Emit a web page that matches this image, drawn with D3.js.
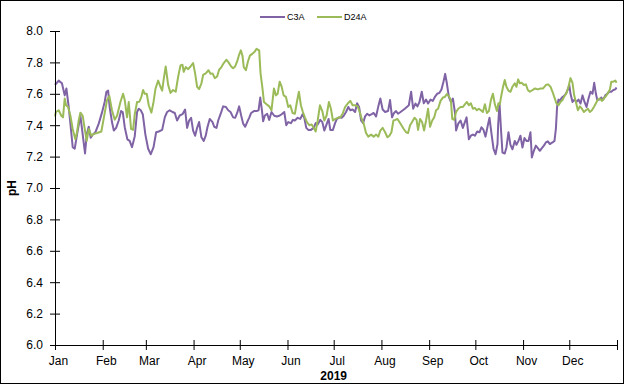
<!DOCTYPE html>
<html>
<head>
<meta charset="utf-8">
<script src="https://cdn.jsdelivr.net/npm/d3@7"></script>
<style>
  body { margin: 0; background: #fff; }
  svg { display: block; font-family: "Liberation Sans", Arial, sans-serif; }
</style>
</head>
<body>
<div id="chart"></div>
<script>
// 数据部分 (day of year 2019, pH)
const seriesNames = ['C3A', 'D24A'];
const seriesColors = ['#7F63A5', '#9BBB59'];
const monthLabels = ['Jan', 'Feb', 'Mar', 'Apr', 'May', 'Jun', 'Jul', 'Aug', 'Sep', 'Oct', 'Nov', 'Dec'];
const yTicks = [6.0, 6.2, 6.4, 6.6, 6.8, 7.0, 7.2, 7.4, 7.6, 7.8, 8.0];

const c3aDay = [0, 2.4, 4.5, 6.3, 7.4, 8.9, 10, 11.5, 12.8, 14.3, 16.5, 18, 19.5, 20.6, 21.9, 23.2, 24.5, 26.2, 28.4, 30.5,
  32.3, 33.4, 34.5, 35.5, 37, 38.2, 39.7, 41.4, 42.9, 44, 45.3, 47, 48.5, 50, 51.8, 53.3, 54.4, 55.7, 57, 58.7,
  60.5, 62.2, 64, 65.7, 67.4, 69.6, 71.3, 72.8, 74.5, 76.3, 77.8, 79.3, 81, 82.8, 84.5, 85.8, 87.1, 88.4, 89.7, 91,
  92.3, 93.6, 95.1, 96.6, 97.9, 99, 100.5, 102.3, 103.4, 104.9, 106, 107.5, 109.2, 111, 112.5, 114, 115.7, 117, 118.3, 119.6,
  120.9, 122.2, 123.5, 124.8, 126.1, 127.4, 129.2, 130.9, 132.2, 133.3, 134.4, 135.2, 136.3, 137.8, 139.1, 140.6, 142.4, 144.1, 145.7, 147.2,
  148.9, 150.2, 151.5, 153.2, 154.5, 155.8, 157.6, 159.3, 160.8, 161.9, 163.2, 164.5, 166.2, 168, 169.3, 170.6, 172.3, 173.6, 174.9, 176.2,
  177.7, 178.8, 180.5, 181.9, 183.1, 184.7, 186.2, 187.5, 189, 190.5, 191.8, 193.3, 194.9, 196.2, 197.5, 198.8, 200.1, 201.4, 202.7, 204.2,
  205.7, 207, 208.5, 210, 211.3, 212.8, 214.4, 216.3, 217.6, 218.9, 220.2, 221.5, 222.8, 224.4, 225.9, 227.2, 228.5, 229.8, 231.3, 232.6,
  234.1, 235.4, 236.7, 238.2, 239.5, 241, 242.3, 243.9, 245.4, 246.7, 248.2, 249.7, 251, 252.3, 253.4, 254.5, 255.8, 257.1, 258.4, 259.7,
  260.5, 261.9, 263.4, 264.9, 266.2, 267.3, 268.8, 270.1, 271.4, 272.7, 274.2, 275.7, 277, 278.3, 279.6, 280.9, 282.2, 283.5, 284.8, 286.1,
  287.4, 287.8, 288.7, 289.7, 290.6, 292.1, 293.2, 294.5, 295.8, 297.1, 298.6, 299.7, 301, 302.3, 303.6, 304.9, 306.2, 307.5, 308.8, 309.7,
  311, 312.3, 313.6, 314.9, 316.2, 317.5, 318.8, 320.1, 321.4, 323.1, 324.4, 325.3, 326.1, 327, 327.9, 329.2, 330.5, 331.8, 333.1, 334,
  334.8, 336.1, 337.4, 338.7, 340, 341.3, 342.6, 343.9, 345.2, 346.5, 347.8, 349.1, 350.2, 351.3, 352.2, 353.5, 354.8, 356, 357.4, 358.7,
  360, 361.3, 362.6, 363.9, 364.7];
const c3aPH = [7.656, 7.684, 7.667, 7.59, 7.634, 7.516, 7.41, 7.26, 7.25, 7.34, 7.46, 7.34, 7.22, 7.34, 7.39, 7.32, 7.34, 7.355, 7.41, 7.48,
  7.55, 7.613, 7.62, 7.516, 7.42, 7.366, 7.383, 7.43, 7.49, 7.484, 7.387, 7.31, 7.30, 7.26, 7.33, 7.484, 7.505, 7.495, 7.47, 7.34,
  7.25, 7.215, 7.26, 7.355, 7.36, 7.37, 7.45, 7.484, 7.495, 7.484, 7.478, 7.43, 7.462, 7.47, 7.50, 7.383, 7.43, 7.447, 7.366, 7.333,
  7.383, 7.42, 7.323, 7.30, 7.333, 7.387, 7.44, 7.42, 7.39, 7.383, 7.43, 7.47, 7.52, 7.516, 7.495, 7.484, 7.45, 7.447, 7.478, 7.52,
  7.462, 7.41, 7.39, 7.42, 7.447, 7.478, 7.49, 7.49, 7.495, 7.576, 7.495, 7.425, 7.462, 7.473, 7.434, 7.484, 7.46, 7.456, 7.46, 7.47,
  7.484, 7.40, 7.42, 7.413, 7.434, 7.43, 7.447, 7.44, 7.47, 7.447, 7.383, 7.37, 7.37, 7.383, 7.413, 7.405, 7.434, 7.42, 7.366, 7.40,
  7.44, 7.37, 7.37, 7.413, 7.44, 7.45, 7.447, 7.46, 7.484, 7.516, 7.495, 7.50, 7.484, 7.54, 7.516, 7.43, 7.413, 7.456, 7.473, 7.462,
  7.47, 7.478, 7.456, 7.52, 7.57, 7.50, 7.484, 7.49, 7.56, 7.45, 7.478, 7.49, 7.473, 7.484, 7.495, 7.505, 7.516, 7.527, 7.613, 7.505,
  7.538, 7.52, 7.548, 7.613, 7.54, 7.563, 7.538, 7.563, 7.555, 7.58, 7.60, 7.606, 7.628, 7.677, 7.727, 7.667, 7.58, 7.548, 7.57, 7.484,
  7.366, 7.41, 7.43, 7.383, 7.42, 7.45, 7.31, 7.333, 7.34, 7.333, 7.36, 7.355, 7.387, 7.37, 7.327, 7.39, 7.447, 7.344, 7.25, 7.215,
  7.28, 7.40, 7.538, 7.366, 7.226, 7.22, 7.258, 7.355, 7.275, 7.247, 7.30, 7.275, 7.30, 7.333, 7.258, 7.318, 7.30, 7.30, 7.355, 7.194,
  7.237, 7.27, 7.254, 7.237, 7.254, 7.27, 7.29, 7.297, 7.28, 7.29, 7.30, 7.376, 7.52, 7.563, 7.555, 7.576, 7.585, 7.60, 7.628, 7.656,
  7.60, 7.548, 7.563, 7.548, 7.563, 7.538, 7.59, 7.548, 7.516, 7.57, 7.613, 7.60, 7.67, 7.60, 7.56, 7.563, 7.576, 7.563, 7.59, 7.60,
  7.613, 7.613, 7.624, 7.628, 7.64];

const d24aDay = [0, 0.6, 2.4, 4.1, 5.2, 6.3, 7.2, 8.5, 10, 11.5, 13.2, 14.3, 15.4, 16.5, 18, 19.3, 20.6, 21.9, 23.6, 25.1,
  27.3, 30.1, 31.6, 33.8, 35.3, 37, 38.8, 40.3, 42.5, 44.2, 45.3, 46.8, 47.9, 49.4, 50.7, 51.8, 53.3, 54.8, 56.1, 57.2,
  58.3, 59.6, 60.9, 62.6, 64, 65.3, 67, 68.5, 69.6, 70.7, 71.9, 73.5, 75, 76.7, 78.4, 80, 81.5, 82.8, 83.6, 84.9,
  86.5, 88, 89.7, 91, 92.3, 93.6, 95.1, 96.2, 97.9, 99.7, 101, 102.3, 103.8, 105.3, 106.6, 108.1, 109.6, 111.4, 112.7, 114.4,
  115.7, 117, 118.3, 119.6, 120.7, 121.8, 122.6, 124, 125.3, 126.6, 128.3, 129.8, 130.9, 132.6, 133.5, 134.8, 135.7, 137.4, 139.1, 140.6,
  142.2, 143.5, 144.6, 145.9, 147.2, 148.5, 150, 151.5, 152.8, 154.3, 155.8, 157.1, 158.4, 159.7, 161, 162.3, 163.6, 165.2, 166.7, 168,
  169.3, 170.6, 172.1, 173.6, 174.9, 176.4, 177.9, 179.2, 180.5, 182.1, 183.6, 185.3, 186.8, 188.4, 190.1, 191.8, 193.3, 194.9, 196.6, 197.9,
  199.2, 200.5, 202, 203.5, 205.3, 207, 208.5, 210, 211.3, 212.8, 214.4, 215.9, 217.2, 218.5, 219.8, 221.1, 222.4, 223.7, 225, 226.5,
  228, 229.3, 230.6, 231.9, 233.5, 234.8, 235.8, 237.1, 238.4, 239.7, 241, 242.3, 243.6, 245, 246.3, 247.5, 248.8, 250.4, 251.9, 253.2,
  254.5, 255.8, 257.1, 258, 259.2, 260.5, 261.9, 263.4, 264.9, 266.2, 267.5, 268.8, 270.1, 271.4, 272.7, 274, 275.3, 276.6, 277.9, 279.2,
  280.5, 281.8, 283.1, 284.4, 285.7, 287, 288, 288.9, 289.7, 291, 292.1, 293.2, 294.5, 295.8, 297.1, 298.6, 299.7, 300.8, 301.9, 303.2,
  304.5, 305.8, 307.1, 308.4, 310.1, 311.8, 313.6, 315.3, 317, 318.8, 320.3, 321.8, 323.1, 324.4, 325.7, 327, 328.3, 329.6, 330.9, 332.2,
  333.5, 334.8, 336.1, 337.2, 338.3, 339.6, 340.9, 342.2, 343.5, 344.8, 346.1, 347.4, 348.7, 350, 351.3, 352.6, 353.9, 355.2, 356.5, 357.8,
  359.1, 360.4, 361.3, 362.6, 363.9, 364.7];
const d24aPH = [7.456, 7.484, 7.495, 7.46, 7.45, 7.57, 7.527, 7.516, 7.46, 7.376, 7.31, 7.355, 7.43, 7.48, 7.46, 7.376, 7.30, 7.376, 7.333, 7.344,
  7.35, 7.36, 7.44, 7.56, 7.585, 7.495, 7.435, 7.46, 7.548, 7.60, 7.56, 7.45, 7.548, 7.376, 7.37, 7.47, 7.548, 7.55, 7.58, 7.624,
  7.60, 7.60, 7.527, 7.48, 7.548, 7.634, 7.684, 7.645, 7.62, 7.70, 7.774, 7.656, 7.606, 7.624, 7.613, 7.71, 7.78, 7.785, 7.74, 7.77,
  7.757, 7.774, 7.796, 7.73, 7.645, 7.63, 7.667, 7.72, 7.73, 7.75, 7.727, 7.73, 7.70, 7.71, 7.753, 7.77, 7.796, 7.817, 7.80, 7.774,
  7.763, 7.774, 7.806, 7.85, 7.877, 7.84, 7.77, 7.75, 7.806, 7.843, 7.856, 7.87, 7.886, 7.877, 7.73, 7.63, 7.548, 7.533, 7.52, 7.495,
  7.634, 7.59, 7.60, 7.677, 7.645, 7.59, 7.58, 7.516, 7.527, 7.478, 7.473, 7.548, 7.613, 7.527, 7.484, 7.45, 7.42, 7.40, 7.405, 7.383,
  7.36, 7.43, 7.527, 7.49, 7.43, 7.462, 7.548, 7.505, 7.43, 7.44, 7.447, 7.45, 7.473, 7.516, 7.538, 7.555, 7.527, 7.527, 7.52, 7.484,
  7.44, 7.41, 7.35, 7.327, 7.34, 7.327, 7.34, 7.327, 7.366, 7.383, 7.355, 7.323, 7.333, 7.355, 7.43, 7.434, 7.44, 7.42, 7.40, 7.376,
  7.355, 7.35, 7.40, 7.42, 7.447, 7.434, 7.37, 7.44, 7.42, 7.366, 7.43, 7.505, 7.39, 7.43, 7.45, 7.495, 7.505, 7.555, 7.576, 7.58,
  7.598, 7.585, 7.56, 7.44, 7.434, 7.484, 7.505, 7.516, 7.516, 7.533, 7.548, 7.527, 7.54, 7.505, 7.51, 7.495, 7.505, 7.495, 7.484, 7.533,
  7.478, 7.49, 7.56, 7.60, 7.533, 7.49, 7.54, 7.533, 7.58, 7.645, 7.688, 7.645, 7.62, 7.613, 7.645, 7.667, 7.645, 7.692, 7.667, 7.67,
  7.656, 7.66, 7.624, 7.613, 7.624, 7.634, 7.628, 7.634, 7.634, 7.656, 7.66, 7.645, 7.613, 7.576, 7.538, 7.527, 7.548, 7.56, 7.585, 7.606,
  7.645, 7.70, 7.67, 7.59, 7.548, 7.495, 7.52, 7.505, 7.484, 7.495, 7.505, 7.484, 7.495, 7.516, 7.54, 7.563, 7.57, 7.555, 7.57, 7.585,
  7.606, 7.628, 7.677, 7.677, 7.684, 7.67];

const startDate = new Date(2019, 0, 1);
const endDate = new Date(2020, 0, 1);
const toDate = d => new Date(startDate.getTime() + d * 864e5);

const series = [
  c3aDay.map((d, i) => ({ date: toDate(d), value: c3aPH[i] })),
  d24aDay.map((d, i) => ({ date: toDate(d), value: d24aPH[i] }))
];

// 视图部分
const width = 624, height = 384;
const margin = { top: 31, right: 7, bottom: 39, left: 55 };
const innerWidth = width - margin.left - margin.right;
const innerHeight = height - margin.top - margin.bottom;

const svg = d3.select('#chart').append('svg')
  .attr('width', width)
  .attr('height', height);

// 外边框
svg.append('rect')
  .attr('x', 0.5).attr('y', 0.5)
  .attr('width', width - 1).attr('height', height - 1)
  .attr('fill', '#fff')
  .attr('stroke', '#000');

const g = svg.append('g')
  .attr('transform', `translate(${margin.left},${margin.top})`);

const x = d3.scaleTime().domain([startDate, endDate]).range([0, innerWidth]);
const y = d3.scaleLinear().domain([6, 8]).range([innerHeight, 0]);

// 折线
const line = d3.line()
  .x(d => x(d.date))
  .y(d => y(d.value));

g.selectAll('path.series')
  .data(series)
  .join('path')
  .attr('class', 'series')
  .attr('fill', 'none')
  .attr('stroke', (d, i) => seriesColors[i])
  .attr('stroke-width', 2)
  .attr('stroke-linejoin', 'round')
  .attr('d', line);

// y 轴
const yAxis = g.append('g')
  .call(d3.axisLeft(y)
    .tickValues(yTicks)
    .tickFormat(d3.format('.1f'))
    .tickSizeInner(5)
    .tickSizeOuter(0)
    .tickPadding(7));
yAxis.select('.domain').attr('stroke', '#000');
yAxis.selectAll('.tick line').attr('x2', 5).attr('x1', -5).attr('stroke', '#000');
yAxis.selectAll('.tick text')
  .attr('font-size', 12)
  .attr('font-family', '"Liberation Sans", Arial, sans-serif')
  .attr('fill', '#000');

// x 轴
const monthTicks = d3.timeMonth.range(startDate, d3.timeDay.offset(endDate, 1));
const xAxis = g.append('g')
  .attr('transform', `translate(0,${innerHeight})`)
  .call(d3.axisBottom(x)
    .tickValues(monthTicks)
    .tickFormat((d, i) => monthLabels[i] || '')
    .tickSizeInner(5)
    .tickSizeOuter(0)
    .tickPadding(6));
xAxis.select('.domain').attr('stroke', '#000');
xAxis.selectAll('.tick line').attr('y1', -5).attr('y2', 5).attr('stroke', '#000');
xAxis.selectAll('.tick text')
  .attr('font-size', 12)
  .attr('font-family', '"Liberation Sans", Arial, sans-serif')
  .attr('fill', '#000')
  .attr('dx', 3);

// 轴标题
svg.append('text')
  .attr('transform', `translate(16,${margin.top + innerHeight / 2}) rotate(-90)`)
  .attr('text-anchor', 'middle')
  .attr('font-size', 12)
  .attr('font-weight', 'bold')
  .text('pH');

svg.append('text')
  .attr('x', margin.left + x(new Date(2019, 6, 1)))
  .attr('y', 380)
  .attr('text-anchor', 'middle')
  .attr('font-size', 12)
  .attr('font-weight', 'bold')
  .text('2019');

// 图例
const legend = svg.append('g').attr('transform', 'translate(260,17)');
const legendItem = legend.selectAll('g')
  .data(seriesNames)
  .join('g')
  .attr('transform', (d, i) => `translate(${i * 57},0)`);
legendItem.append('line')
  .attr('x1', 0).attr('x2', 25)
  .attr('stroke', (d, i) => seriesColors[i])
  .attr('stroke-width', 2);
legendItem.append('text')
  .attr('x', 27)
  .attr('dy', '0.35em')
  .attr('font-size', 9)
  .text(d => d);
</script>
</body>
</html>
